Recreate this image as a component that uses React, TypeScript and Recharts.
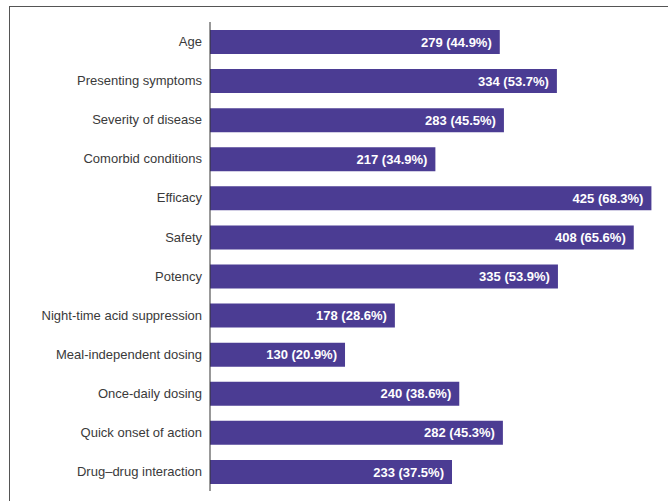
import React from "react";
import { BarChart, Bar, XAxis, YAxis, LabelList } from "recharts";

const categories = [
  "Age",
  "Presenting symptoms",
  "Severity of disease",
  "Comorbid conditions",
  "Efficacy",
  "Safety",
  "Potency",
  "Night-time acid suppression",
  "Meal-independent dosing",
  "Once-daily dosing",
  "Quick onset of action",
  "Drug\u2013drug interaction",
];

const counts = [279, 334, 283, 217, 425, 408, 335, 178, 130, 240, 282, 233];

const percents = [44.9, 53.7, 45.5, 34.9, 68.3, 65.6, 53.9, 28.6, 20.9, 38.6, 45.3, 37.5];

const data = categories.map((name, i) => ({
  name,
  count: counts[i],
  label: `${counts[i]} (${percents[i].toFixed(1)}%)`,
}));

const FONT = "'Liberation Sans', Arial, sans-serif";

const App = () => {
  return (
    <div style={{ position: "absolute", left: 0, top: 0, width: 668, height: 501, overflow: "hidden", background: "#fff" }}>
      <div
        style={{
          position: "absolute",
          left: 9,
          top: 6,
          width: 700,
          height: 600,
          borderLeft: "1px solid #555",
          borderTop: "1px solid #555",
        }}
      />
      <BarChart
        width={668}
        height={501}
        data={data}
        layout="vertical"
        margin={{ top: 22, right: 1, left: 0, bottom: 10 }}
        style={{ position: "absolute", left: 0, top: 0, fontFamily: FONT }}
      >
        <XAxis hide type="number" domain={[0, 440]} />
        <YAxis
          dataKey="name"
          type="category"
          width={210}
          tickLine={false}
          axisLine={{ stroke: "#333" }}
          tick={{ fontSize: 13, fill: "#3a3a3a", fontFamily: FONT }}
          interval={0}
        />
        <Bar dataKey="count" fill="#4b3c93" barSize={24} isAnimationActive={false}>
          <LabelList
            dataKey="label"
            position="insideRight"
            offset={8}
            fill="#ffffff"
            style={{ fontWeight: "bold", fontSize: 13, fontFamily: FONT }}
          />
        </Bar>
      </BarChart>
    </div>
  );
};

export default App;
